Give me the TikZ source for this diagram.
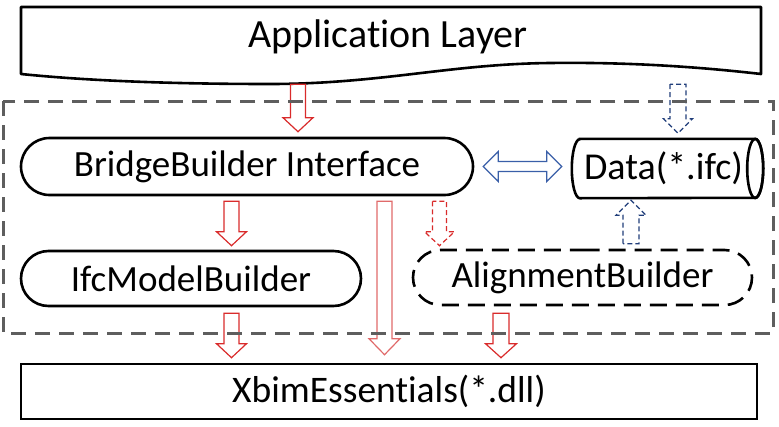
\documentclass[tikz,border=0pt]{standalone}
\usepackage{fontspec}
\setmainfont{Carlito}[Ligatures=CommonOff]
\usetikzlibrary{shapes.misc,calc}
\definecolor{ared}{HTML}{D92B2B}
\definecolor{alight}{HTML}{E06A6A}
\definecolor{anavy}{HTML}{203D7A}
\definecolor{ablue}{HTML}{3A5FA8}
\definecolor{agray}{HTML}{5E5E5E}
% vertical hollow block arrow: style, from, to, shaft half, head half, head length, sign (+1 down, -1 up)
\newcommand\vblk[7]{%
  \draw[#1] let \p1=(#2), \p2=(#3) in
   (\x1-#4,\y1) -- (\x1-#4,\y2+#7*#6) -- (\x1-#5,\y2+#7*#6) -- (\x1,\y2)
   -- (\x1+#5,\y2+#7*#6) -- (\x1+#4,\y2+#7*#6) -- (\x1+#4,\y1) -- cycle;}
\begin{document}
\begin{tikzpicture}[x=1pt,y=-1pt,
  txt/.style={font=\fontsize{37}{40}\selectfont, inner sep=0pt},
  box/.style={txt, draw=black, line width=2.6pt},
  pill/.style={box, rounded rectangle},
  redblk/.style={draw=ared, line width=1.2pt},
  lightblk/.style={draw=alight, line width=1.2pt},
  reddash/.style={draw=ared, line width=1.2pt, dash pattern=on 5pt off 3pt},
  bluedash/.style={draw=anavy, line width=1.2pt, dash pattern=on 5pt off 3pt},
  blueblk/.style={draw=ablue, line width=1.2pt},
]
\useasboundingbox (0,0) rectangle (779,426);
% application layer banner
\node[minimum width=740pt, minimum height=77pt, inner sep=0pt] (app) at (391,45.5) {};
\draw[line width=2.6pt, line join=round] (21,7) -- (761,7) -- (761,74)
  .. controls (700,67) and (630,62) .. (550,63)
  .. controls (450,64) and (380,84) .. (270,84)
  .. controls (160,84) and (80,80) .. (21,74) -- cycle;
\node[txt, font=\fontsize{40}{44}\selectfont] (applabel) at (388,37) {Application Layer};
% nodes
\node[pill, minimum width=452pt, minimum height=57pt] (bridge) at (247,166.5) {BridgeBuilder Interface};
\node[txt, font=\fontsize{38}{40}\selectfont, minimum width=191pt, minimum height=59pt] (data) at (667.5,168.5) {\hspace*{-8pt}Data(*.ifc)};
\draw[line width=2.6pt] ($(data.north west)+(8,0)$) -- ($(data.north east)+(-8,0)$)
  arc[start angle=90, end angle=-90, x radius=8pt, y radius=29.5pt]
  -- ($(data.south west)+(8,0)$)
  arc[start angle=270, end angle=90, x radius=8pt, y radius=29.5pt] -- cycle;
\draw[line width=2.6pt] ($(data.east)+(-8,0)$) ellipse[x radius=8pt, y radius=29.5pt];
\node[pill, minimum width=340pt, minimum height=55pt] (ifc) at (191,278.5) {IfcModelBuilder};
\node[pill, dash pattern=on 17pt off 9pt, minimum width=339pt, minimum height=55pt] (align) at (582.5,277.5) {AlignmentBuilder};
\node[box, font=\fontsize{37.5}{40}\selectfont, minimum width=736pt, minimum height=55pt] (xbim) at (389,391.5) {XbimEssentials(*.dll)};
% columns
\coordinate (c0) at (298,0);
\coordinate (c1) at (231.5,0);
\coordinate (c2) at (384.5,0);
\coordinate (c3) at (439.5,0);
\coordinate (c4) at (631,0);
\coordinate (c5) at (678,0);
\coordinate (c6) at (501,0);
% arrows
\vblk{redblk}{app.south -| c0}{$(bridge.north -| c0)+(0,-5)$}{7.5pt}{15pt}{14pt}{1}
\vblk{bluedash}{app.south -| c5}{$(data.north -| c5)+(0,-5.5)$}{8pt}{14.5pt}{14.5pt}{1}
\vblk{redblk}{$(bridge.south -| c1)+(0,5)$}{$(ifc.north -| c1)+(0,-4)$}{7.5pt}{15pt}{14pt}{1}
\vblk{lightblk}{$(bridge.south -| c2)+(0,5)$}{$(xbim.north -| c2)+(0,-8)$}{7.5pt}{15.5pt}{16pt}{1}
\vblk{reddash}{$(bridge.south -| c3)+(0,5)$}{$(align.north -| c3)+(0,-3)$}{7pt}{15pt}{14pt}{1}
\vblk{bluedash}{$(align.north -| c4)+(0,-5)$}{$(data.south -| c4)+(0,2)$}{8pt}{15pt}{15pt}{-1}
\vblk{redblk}{$(ifc.south -| c1)+(0,6)$}{$(xbim.north -| c1)+(0,-5)$}{7.5pt}{15pt}{14pt}{1}
\vblk{redblk}{$(align.south -| c6)+(0,7)$}{$(xbim.north -| c6)+(0,-5)$}{8pt}{15.5pt}{14pt}{1}
% double arrow
\draw[blueblk] let \p1=($(bridge.east)+(9,0)$), \p2=($(data.west)+(-10,0)$) in
  (\x1,\y1) -- (\x1+15pt,\y1+15pt) -- (\x1+15pt,\y1+5pt) -- (\x2-15pt,\y1+5pt)
  -- (\x2-15pt,\y1+15pt) -- (\x2,\y1) -- (\x2-15pt,\y1-15pt) -- (\x2-15pt,\y1-5pt)
  -- (\x1+15pt,\y1-5pt) -- (\x1+15pt,\y1-15pt) -- cycle;
% dashed container
\draw[agray, line width=3pt, dash pattern=on 15pt off 9pt] (3,101) rectangle (773,333);
\end{tikzpicture}
\end{document}
